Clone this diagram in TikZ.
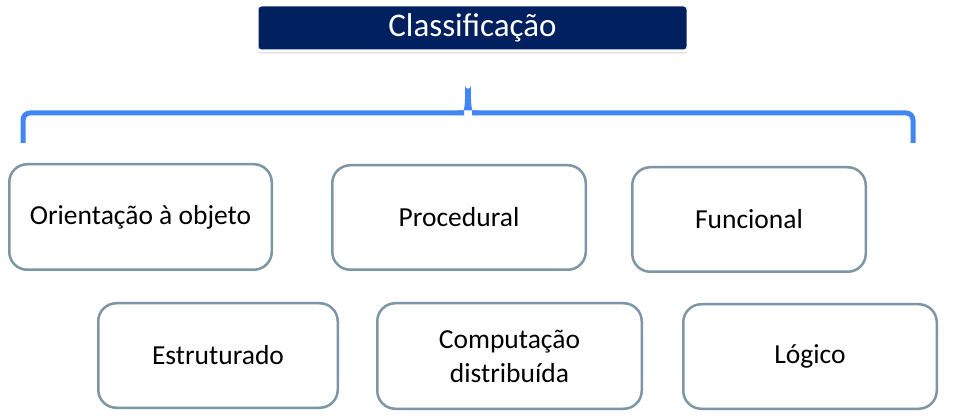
\documentclass[tikz,border=0pt]{standalone}
\usepackage{fontspec}
\setmainfont{Carlito}
\usetikzlibrary{shadows}
\definecolor{navy}{RGB}{0,32,96}
\definecolor{bracec}{RGB}{66,133,244}
\definecolor{boxc}{RGB}{125,150,165}
\tikzset{
  catbox/.style={draw=boxc, line width=2.5pt, rounded corners=18pt, fill=white,
    inner sep=0pt, align=center, font=\fontsize{27.5}{34}\selectfont, text=black},
  titlebox/.style={draw=white, line width=3pt, fill=navy, rounded corners=4pt,
    inner sep=0pt, text=white, font=\fontsize{33}{38}\selectfont,
    drop shadow={opacity=0.35, shadow xshift=0pt, shadow yshift=-2.5pt}},
  bracestyle/.style={draw=bracec, line width=5pt}
}
\begin{document}
\begin{tikzpicture}[x=1pt,y=-1pt]
\useasboundingbox (0,0) rectangle (953,419);
% title
\node[titlebox, minimum width=431pt, minimum height=46pt] (title) at (472.5,28) {Classificação};
% brace
\coordinate (bl) at (23,143);
\coordinate (br) at (913,143);
\coordinate (tip) at (468,83);
\draw[bracestyle, rounded corners=7pt] (bl) -- (23,113) -- (464,113);
\draw[bracestyle, rounded corners=7pt] (472,113) -- (913,113) -- (br);
\fill[bracec] (458,115.5) .. controls (464.5,115.5) and (465,110) .. (465.2,86)
  arc[start angle=180, end angle=0, radius=2.8]
  .. controls (471,110) and (471.5,115.5) .. (478,115.5) -- (478,110.5) -- (458,110.5) -- cycle;
\fill[white] (466.8,116) -- (468,114.4) -- (469.2,116) -- cycle;
% boxes
\node[catbox, minimum width=262.5pt, minimum height=105.5pt] (oo) at (140.5,217) {Orientação à objeto};
\node[catbox, minimum width=253.5pt, minimum height=104.5pt] (proc) at (459,217.5) {Procedural};
\node[catbox, minimum width=233.5pt, minimum height=104.5pt] (func) at (749,219.5) {Funcional};
\node[catbox, minimum width=239.5pt, minimum height=104.5pt] (estr) at (218,355.5) {Estruturado};
\node[catbox, minimum width=264.5pt, minimum height=105.5pt] (comp) at (509.5,356) {Computação\\distribuída};
\node[catbox, minimum width=253.5pt, minimum height=104.5pt] (logi) at (810,356.5) {Lógico};
\end{tikzpicture}
\end{document}
